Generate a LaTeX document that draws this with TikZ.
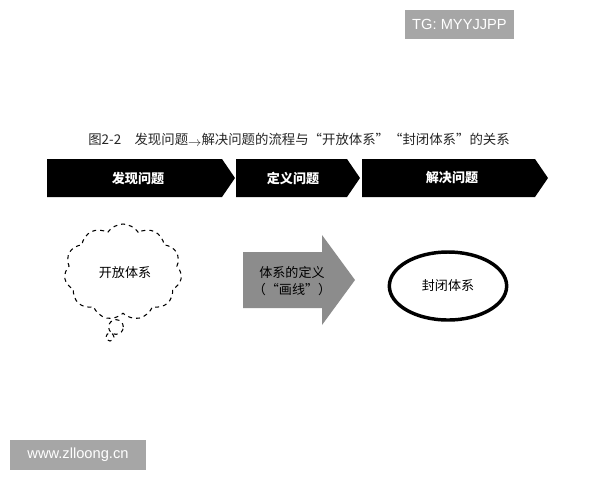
\documentclass[tikz,border=0pt]{standalone}
\usepackage{fontspec}
\setmainfont{Liberation Sans}
\newfontfamily\cjk{Noto Sans CJK SC}
\usetikzlibrary{shapes.symbols,shapes.geometric}
\begin{document}
\begin{tikzpicture}[x=0.75pt,y=-0.75pt,
  chev/.style={fill=black,draw=none},
  wm/.style={fill=black!35,draw=none},
  wmtext/.style={text=white,font=\fontsize{11}{13}\selectfont,inner sep=0pt},
  chevtext/.style={text=white,font=\cjk\bfseries\fontsize{9.8}{11}\selectfont,inner sep=0pt},
  body/.style={font=\cjk\fontsize{9.8}{13}\selectfont,inner sep=0pt,align=center}]
\useasboundingbox[fill=white] (0,0) rectangle (600,480);
% watermarks
\fill[wm] (405,10) rectangle (514,39);
\node[wmtext] (tg) at (459.5,24.5) {TG: MYYJJPP};
\fill[wm] (10,440) rectangle (146,470);
\node[wmtext] (www) at (78,455) {www.zlloong.cn};
% title
\node[font=\cjk\fontsize{10.05}{12}\selectfont,inner sep=0pt,text=black!85] (title) at (299,140)
  {图2-2\quad 发现问题\raisebox{-0.3ex}{$\rightarrow$}解决问题的流程与“开放体系”“封闭体系”的关系};
% chevrons
\fill[chev] (47,159) -- (222,159) -- (235,178) -- (222,197) -- (47,197) -- cycle;
\fill[chev] (236,159) -- (347,159) -- (360,178) -- (347,197) -- (236,197) -- cycle;
\fill[chev] (362,159) -- (535,159) -- (548,178) -- (535,197) -- (362,197) -- cycle;
\node[chevtext] (c1) at (138,178) {发现问题};
\node[chevtext] (c2) at (293,178) {定义问题};
\node[chevtext] (c3) at (452,178) {解决问题};
% cloud
\node[cloud, cloud puffs=11, cloud puff arc=115, aspect=1.25, draw, dashed, thick,
  minimum width=88pt, minimum height=72pt, inner sep=0pt] (cloud) at (123,272) {};
\node[body] (open) at (125,273) {开放体系};
\node[circle, draw, dashed, thick, minimum size=11pt, inner sep=0pt] (b1) at (116,327) {};
\node[circle, draw, dashed, thick, minimum size=6pt, inner sep=0pt] (b2) at (110,337) {};
% gray arrow
\fill[black!45] (243,252) -- (322,252) -- (322,235) -- (355,280) -- (322,325) -- (322,308) -- (243,308) -- cycle;
\node[body] (def) at (292,281) {体系的定义\\（“画线”）};
% ellipse
\node[ellipse, draw, line width=2.6pt, minimum width=88pt, minimum height=51pt, inner sep=0pt] (closed) at (448,286) {};
\node[body] (ct) at (448,286) {封闭体系};
\end{tikzpicture}
\end{document}
